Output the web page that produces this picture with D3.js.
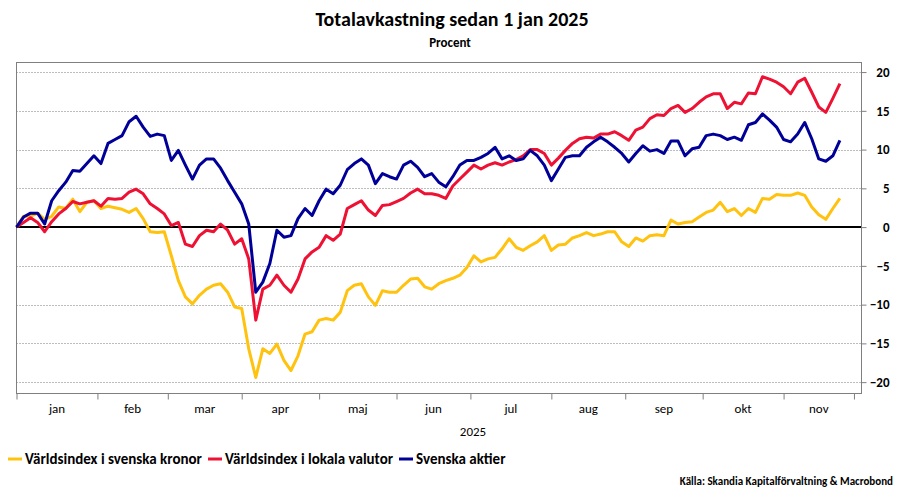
<!DOCTYPE html>
<html>
<head>
<meta charset="utf-8">
<style>
  body { margin: 0; background: #fff; }
  svg { display: block; }
  text { font-family: Carlito, "Liberation Sans Narrow", Lato, "Open Sans", sans-serif; fill: #000; }
</style>
</head>
<body>
<svg></svg>
<script src="https://d3js.org/d3.v7.min.js"></script>
<script>

// total return since 1 jan 2025, percent, one value every 2nd trading day
var STEP = 2;

var kronor = [
  0, 1.4, 1.4, 1.8, 1.0, 1.4, 2.6, 2.4, 3.6, 2.0, 3.2, 3.4, 2.4, 2.7, 2.5, 2.3, 1.9, 2.4, 1.1, -0.6,
  -0.7, -0.6, -3.7, -6.9, -9.0, -9.9, -8.8, -8.0, -7.5, -7.3, -8.4, -10.3, -10.5, -15.7, -19.4, -15.7, -16.3, -15.1, -17.2, -18.5,
  -16.6, -13.8, -13.5, -12.0, -11.8, -12.0, -11.0, -8.2, -7.5, -7.3, -9.0, -10.1, -8.2, -8.4, -8.4, -7.5, -6.7, -6.6, -7.7, -8.0,
  -7.3, -6.9, -6.6, -6.2, -5.2, -3.7, -4.5, -4.1, -3.9, -2.8, -1.5, -2.6, -3.0, -2.4, -1.9, -1.1, -3.0, -2.3, -2.2, -1.4,
  -1.1, -0.7, -1.1, -0.9, -0.6, -0.6, -1.9, -2.5, -1.4, -1.8, -1.1, -1.0, -1.1, 0.9, 0.4, 0.6, 0.7, 1.3, 1.9, 2.2,
  3.2, 2.0, 2.4, 1.5, 2.4, 1.9, 3.7, 3.6, 4.2, 4.1, 4.1, 4.4, 4.1, 2.6, 1.6, 1.0, 2.4, 3.7
];

var lokala = [
  0, 0.6, 1.2, 0.6, -0.6, 0.7, 1.7, 2.4, 3.3, 3.0, 3.2, 3.4, 2.7, 3.7, 3.6, 3.7, 4.5, 4.9, 4.3, 3.0,
  2.4, 1.7, 0.2, 0.6, -2.2, -2.5, -1.1, -0.4, -0.6, 0.4, -0.4, -2.2, -1.5, -4.1, -12.0, -8.0, -7.5, -6.2, -7.5, -8.4,
  -6.7, -4.1, -3.2, -2.6, -1.1, -1.7, -0.9, 2.4, 2.9, 3.4, 2.2, 1.5, 2.8, 2.9, 3.3, 3.7, 4.4, 4.9, 4.3, 4.3,
  4.1, 3.7, 5.3, 6.2, 7.1, 8.0, 7.5, 8.0, 8.3, 8.0, 8.4, 8.7, 9.2, 10.0, 10.0, 9.5, 8.0, 8.9, 9.9, 10.8,
  11.4, 11.6, 11.5, 12.0, 12.0, 12.3, 11.8, 11.2, 12.5, 12.9, 14.0, 14.5, 14.4, 15.3, 15.7, 14.8, 15.3, 16.1, 16.8, 17.2,
  17.2, 15.3, 16.1, 15.9, 17.3, 17.2, 19.4, 19.1, 18.7, 18.1, 17.2, 18.7, 19.2, 17.4, 15.5, 14.8, 16.6, 18.5
];

var svenska = [
  0, 1.3, 1.8, 1.8, 0.4, 3.4, 4.7, 5.8, 7.3, 7.2, 8.2, 9.2, 8.2, 10.8, 11.3, 11.8, 13.6, 14.3, 12.9, 11.7,
  12.0, 11.8, 8.6, 9.9, 8.0, 6.2, 8.0, 8.8, 8.8, 7.6, 6.0, 4.5, 3.0, 0.4, -8.4, -7.1, -4.7, -0.4, -1.3, -1.1,
  1.1, 2.4, 1.5, 3.4, 4.9, 4.3, 5.4, 7.4, 8.2, 8.8, 8.0, 5.6, 6.9, 6.5, 6.2, 8.0, 8.5, 7.7, 6.5, 6.9,
  5.8, 5.2, 6.5, 8.0, 8.6, 8.6, 9.0, 9.5, 10.3, 8.8, 9.2, 8.6, 8.8, 9.9, 9.2, 8.0, 6.0, 7.5, 9.0, 9.2,
  9.2, 10.3, 11.0, 11.6, 11.0, 10.3, 9.5, 8.4, 9.5, 10.5, 9.8, 10.0, 9.5, 11.1, 11.1, 9.2, 10.1, 10.3, 11.8, 12.0,
  11.8, 11.3, 11.6, 11.2, 13.2, 13.5, 14.6, 13.8, 12.9, 11.3, 11.0, 12.0, 13.5, 11.4, 8.8, 8.5, 9.2, 11.2
];

var monthLabels = ["jan", "feb", "mar", "apr", "maj", "jun", "jul", "aug", "sep", "okt", "nov"];
var yTicks = [-20, -15, -10, -5, 0, 5, 10, 15, 20];
var seriesNames = ["Världsindex i svenska kronor", "Världsindex i lokala valutor", "Svenska aktier"];
var colors = ["#FFC20E", "#EE1133", "#000099"];

var width = 900, height = 500;
var pLeft = 16, pRight = 861, pTop = 62, pBottom = 393;

// trading days jan..nov, the x axis is spaced by trading day
var days = d3.timeDay.range(new Date(2025, 0, 1), new Date(2025, 11, 1))
    .filter(d => d.getDay() !== 0 && d.getDay() !== 6);
var monthStart = [];
days.forEach((d, i) => { if (i === 0 || d.getMonth() !== days[i - 1].getMonth()) monthStart.push(i); });
monthStart.push(days.length);

const svg = d3.select("svg").attr("width", width).attr("height", height);

var x = d3.scaleLinear().domain([0, 240]).range([pLeft + 0.5, pRight]);
var y = d3.scaleLinear().domain([-21.4, 21.3]).range([pBottom, pTop]);

// grid
svg.append("g").selectAll("line")
    .data(yTicks.filter(v => v !== 0))
    .join("line")
      .attr("x1", pLeft).attr("x2", pRight)
      .attr("y1", d => Math.round(y(d)) + 0.5).attr("y2", d => Math.round(y(d)) + 0.5)
      .attr("stroke", "#bdbdbd")
      .attr("stroke-dasharray", "2,1");

// frame
svg.append("rect")
    .attr("x", pLeft + 0.5).attr("y", pTop + 0.5)
    .attr("width", pRight - pLeft).attr("height", pBottom - pTop)
    .attr("fill", "none").attr("stroke", "#7f7f7f");

// right axis
var yAxis = d3.axisRight(y).tickValues(yTicks).tickSize(5).tickPadding(0).tickFormat(d3.format("d"));
var gy = svg.append("g").attr("transform", `translate(${pRight + 0.5},0)`).call(yAxis);
gy.select(".domain").remove();
gy.selectAll(".tick line").attr("stroke", "#7f7f7f");
gy.selectAll(".tick text")
    .attr("x", 28).attr("text-anchor", "end")
    .style("font-size", "13px").style("font-weight", "bold")
    .style("font-family", "Carlito, 'Liberation Sans Narrow', Lato, 'Open Sans', sans-serif");

// bottom axis ticks at month starts
var xAxis = d3.axisBottom(x).tickValues(monthStart).tickSize(6).tickFormat("");
var gx = svg.append("g").attr("transform", `translate(0,${pBottom + 0.5})`).call(xAxis);
gx.select(".domain").remove();
gx.selectAll(".tick line").attr("stroke", "#7f7f7f");

svg.append("g").selectAll("text")
    .data(monthLabels)
    .join("text")
      .attr("x", (d, i) => (x(monthStart[i]) + x(monthStart[i + 1])) / 2)
      .attr("y", 413)
      .attr("text-anchor", "middle")
      .style("font-size", "13px")
      .text(d => d);

svg.append("text").attr("x", 473).attr("y", 436).attr("text-anchor", "middle")
    .style("font-size", "13px").text("2025");

// zero line
svg.append("line")
    .attr("x1", pLeft).attr("x2", pRight)
    .attr("y1", y(0)).attr("y2", y(0))
    .attr("stroke", "#000").attr("stroke-width", 2);

// series
var line = d3.line()
    .x((d, i) => x(i * STEP))
    .y(d => y(d));

svg.append("g").selectAll("path")
    .data([kronor, lokala, svenska])
    .join("path")
      .attr("d", line)
      .attr("fill", "none")
      .attr("stroke", (d, i) => colors[i])
      .attr("stroke-width", 3)
      .attr("stroke-linejoin", "round");

// titles
svg.append("text").attr("x", 452).attr("y", 26).attr("text-anchor", "middle")
    .style("font-size", "20px").style("font-weight", "bold")
    .text("Totalavkastning sedan 1 jan 2025");
svg.append("text").attr("x", 450).attr("y", 47).attr("text-anchor", "middle")
    .style("font-size", "13px").style("font-weight", "bold")
    .text("Procent");

// legend
var legendX = [8, 208, 399];
var lg = svg.append("g").selectAll("g")
    .data(seriesNames)
    .join("g")
      .attr("transform", (d, i) => `translate(${legendX[i]},459)`);
lg.append("line").attr("x1", 0).attr("x2", 14).attr("y1", 0).attr("y2", 0)
    .attr("stroke", (d, i) => colors[i]).attr("stroke-width", 3);
lg.append("text").attr("x", 17).attr("y", 5)
    .style("font-size", "15px").style("font-weight", "bold")
    .text(d => d);

svg.append("text").attr("x", 893).attr("y", 485).attr("text-anchor", "end")
    .style("font-size", "11px").style("font-weight", "bold")
    .text("Källa: Skandia Kapitalförvaltning & Macrobond");

</script>
</body>
</html>
